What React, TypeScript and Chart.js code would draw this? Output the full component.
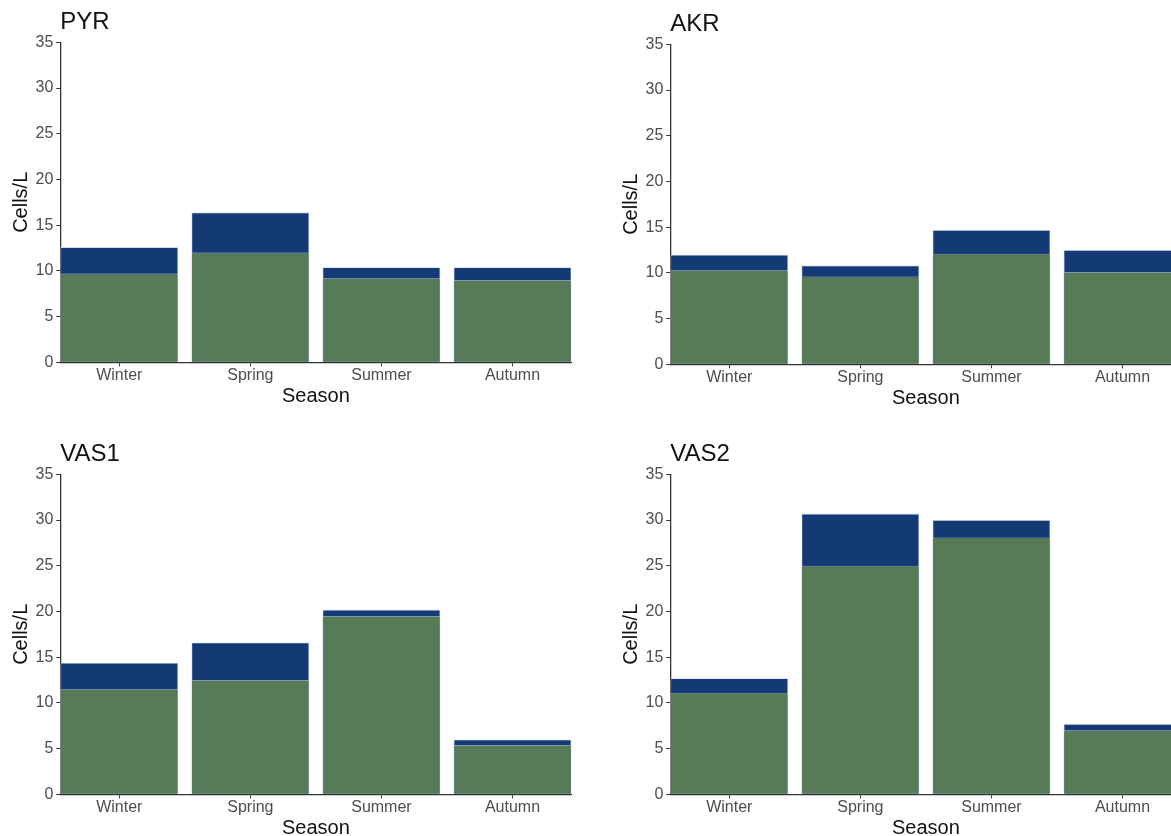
import React, { useEffect, useRef } from "react";
import { Chart, registerables } from "chart.js";

Chart.register(...registerables);

const SEASONS = ["Winter", "Spring", "Summer", "Autumn"];
const Y_TICKS = [0, 5, 10, 15, 20, 25, 30, 35];

const PYR_TOTAL = [12.6, 16.4, 10.4, 10.4];
const PYR_BASE = [9.7, 12.0, 9.2, 9.0];

const AKR_TOTAL = [12.0, 10.8, 14.7, 12.5];
const AKR_BASE = [10.3, 9.6, 12.1, 10.1];

const VAS1_TOTAL = [14.4, 16.6, 20.2, 6.0];
const VAS1_BASE = [11.5, 12.5, 19.5, 5.4];

const VAS2_TOTAL = [12.7, 30.7, 30.0, 7.7];
const VAS2_BASE = [11.1, 25.0, 28.1, 7.0];

const FONT = "'Liberation Sans', Arial, Helvetica, sans-serif";
const GREEN = "#577b57";
const BLUE = "#133a75";
const EDGE = "rgba(205,215,232,0.9)";

const CW = 600;
const CH = 420;

function toPoints(values: number[]) {
  return values.map((v, i) => ({ x: i + 1, y: v }));
}

function Panel(props: { title: string; base: number[]; total: number[]; left: number; top: number }) {
  const ref = useRef<HTMLCanvasElement | null>(null);
  useEffect(() => {
    if (!ref.current) return;
    const chart = new Chart(ref.current, {
      type: "bar",
      data: {
        datasets: [
          {
            label: "base",
            data: toPoints(props.base),
            backgroundColor: GREEN,
            borderColor: EDGE,
            borderWidth: 0.8,
            categoryPercentage: 1,
            barPercentage: 0.9,
          },
          {
            label: "total",
            data: toPoints(props.total),
            backgroundColor: BLUE,
            borderColor: EDGE,
            borderWidth: 0.8,
            categoryPercentage: 1,
            barPercentage: 0.9,
          },
        ],
      },
      options: {
        responsive: false,
        animation: false,
        layout: { padding: { left: 0, right: CW - 571.5, top: 0, bottom: 0 } },
        plugins: {
          legend: { display: false },
          tooltip: { enabled: false },
          title: {
            display: true,
            text: props.title,
            align: "start",
            fullSize: false,
            color: "#111",
            font: { family: FONT, size: 24, weight: "normal", lineHeight: 1.2 },
            padding: { top: 8, bottom: 5.5 },
          },
        },
        scales: {
          x: {
            type: "linear",
            min: 0.55,
            max: 4.45,
            offset: false,
            stacked: true,
            afterBuildTicks: (scale: any) => {
              scale.ticks = SEASONS.map((_, i) => ({ value: i + 1 }));
            },
            afterFit: (scale: any) => {
              scale.height = CH - 362.3;
            },
            ticks: {
              autoSkip: false,
              maxRotation: 0,
              padding: 0,
              color: "#4d4d4d",
              font: { family: FONT, size: 16 },
              callback: (v: any) => SEASONS[Math.round(Number(v)) - 1] ?? "",
            },
            grid: {
              display: true,
              offset: false,
              drawOnChartArea: false,
              drawTicks: true,
              tickLength: 4,
              color: "#333",
              lineWidth: 1,
            },
            border: { display: true, color: "#333", width: 1.3 },
            title: {
              display: true,
              text: "Season",
              color: "#111",
              font: { family: FONT, size: 20, lineHeight: 1.2 },
              padding: { top: 0, bottom: 12 },
            },
          },
          y: {
            type: "linear",
            min: 0,
            max: 35,
            stacked: false,
            afterBuildTicks: (scale: any) => {
              scale.ticks = Y_TICKS.map((v) => ({ value: v }));
            },
            afterFit: (scale: any) => {
              scale.width = 60.3;
            },
            ticks: {
              padding: 3,
              color: "#4d4d4d",
              font: { family: FONT, size: 16 },
            },
            grid: {
              display: true,
              drawOnChartArea: false,
              drawTicks: true,
              tickLength: 4,
              color: "#333",
              lineWidth: 1,
            },
            border: { display: true, color: "#333", width: 1.3 },
            title: {
              display: true,
              text: "Cells/L",
              color: "#111",
              font: { family: FONT, size: 20, lineHeight: 1.2 },
              padding: { top: 9, bottom: 0 },
            },
          },
        },
      } as any,
    });
    return () => chart.destroy();
  }, []);
  return (
    <canvas
      ref={ref}
      width={CW}
      height={CH}
      style={{ position: "absolute", left: props.left, top: props.top, width: CW, height: CH }}
    />
  );
}

export default function App() {
  return (
    <div
      style={{
        position: "fixed",
        left: 0,
        top: 0,
        width: 1171,
        height: 836,
        overflow: "hidden",
        background: "#fff",
      }}
    >
      <Panel title="PYR" base={PYR_BASE} total={PYR_TOTAL} left={0} top={0} />
      <Panel title="AKR" base={AKR_BASE} total={AKR_TOTAL} left={610} top={2} />
      <Panel title="VAS1" base={VAS1_BASE} total={VAS1_TOTAL} left={0} top={432} />
      <Panel title="VAS2" base={VAS2_BASE} total={VAS2_TOTAL} left={610} top={432} />
    </div>
  );
}
